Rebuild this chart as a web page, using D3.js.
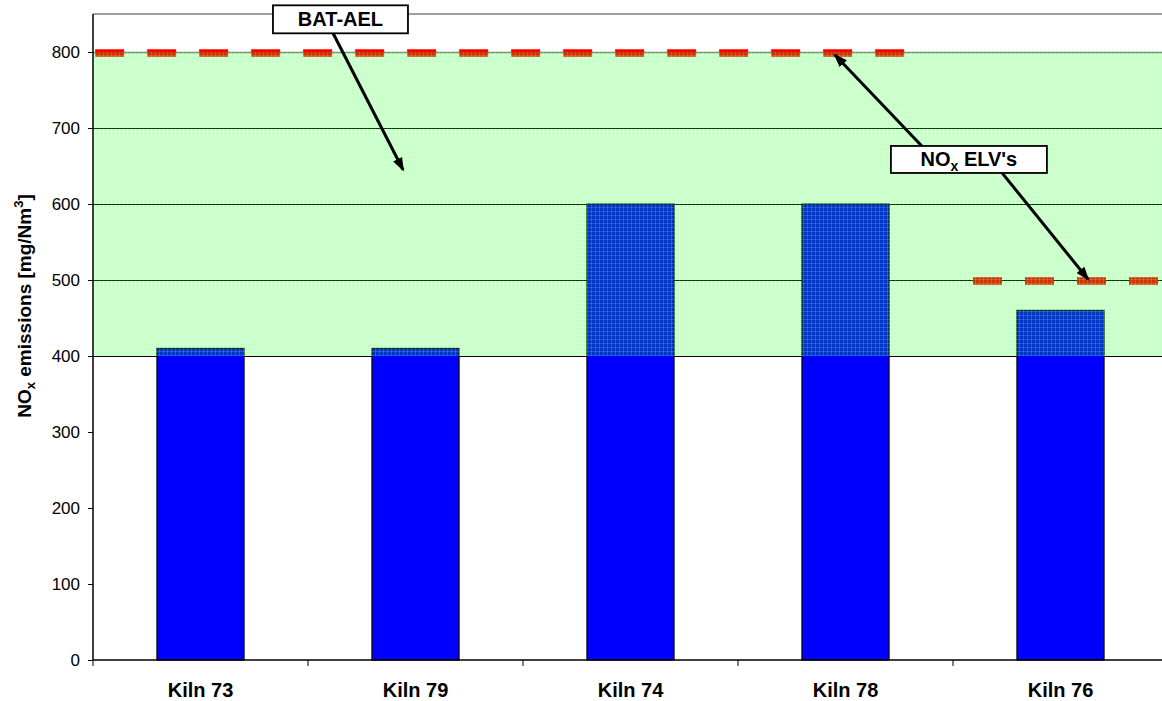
<!DOCTYPE html>
<html>
<head>
<meta charset="utf-8">
<script src="https://cdn.jsdelivr.net/npm/d3@7"></script>
<style>
  body { margin: 0; background: #fff; }
  svg { display: block; font-family: "Liberation Sans", Arial, sans-serif; }
</style>
</head>
<body>
<div id="chart"></div>
<script>
// data
var kilns = ["Kiln 73", "Kiln 79", "Kiln 74", "Kiln 78", "Kiln 76"];
var emissions = [410, 410, 600, 600, 460];
var yTicks = [0, 100, 200, 300, 400, 500, 600, 700, 800];
var gridValues = [400, 500, 600, 700, 800];
var batAel = [400, 800];          // BAT-AEL range (green band)
// ELV lines: [from category pos, to category pos, value]
var elvLines = [[0.01, 3.78, 800], [4.093, 5, 500]];

var width = 1162, height = 701;
var margin = { top: 14, left: 93, bottom: 41 };
var plotRight = 1168;

var svg = d3.select("#chart").append("svg")
    .attr("width", width)
    .attr("height", height);

var y = d3.scaleLinear().domain([0, 850]).range([height - margin.bottom, margin.top]);
var x = d3.scaleBand().domain(kilns).range([margin.left, plotRight]);
var xi = d3.scaleLinear().domain([0, kilns.length]).range([margin.left, plotRight]);

var defs = svg.append("defs");
// green hatch pattern of the BAT-AEL band
var pat = defs.append("pattern")
    .attr("id", "band")
    .attr("width", 4).attr("height", 4)
    .attr("patternUnits", "userSpaceOnUse");
pat.append("rect").attr("width", 4).attr("height", 4).attr("fill", "rgba(0,255,0,0.21)");
pat.append("rect").attr("x", 3).attr("width", 1).attr("height", 4).attr("fill", "rgba(255,255,255,0.15)");
pat.append("rect").attr("y", 3).attr("width", 4).attr("height", 1).attr("fill", "rgba(255,255,255,0.15)");

defs.append("marker")
    .attr("id", "arrow")
    .attr("markerUnits", "userSpaceOnUse")
    .attr("viewBox", "0 0 14 10")
    .attr("refX", 12).attr("refY", 5)
    .attr("markerWidth", 14).attr("markerHeight", 10)
    .attr("orient", "auto")
    .append("path")
    .attr("d", "M0,0 L14,5 L0,10 Z")
    .attr("fill", "#000");

// top border of plot area
svg.append("line")
    .attr("x1", margin.left).attr("x2", width)
    .attr("y1", margin.top).attr("y2", margin.top)
    .attr("stroke", "#808080").attr("stroke-width", 1.5);

// grid lines
svg.selectAll(".grid")
    .data(gridValues)
    .enter().append("line")
    .attr("class", "grid")
    .attr("x1", margin.left).attr("x2", width)
    .attr("y1", function(d) { return Math.round(y(d)) + 0.5; })
    .attr("y2", function(d) { return Math.round(y(d)) + 0.5; })
    .attr("stroke", function(d) { return d === 800 ? "#808080" : "#000"; })
    .attr("stroke-width", function(d) { return d === 800 ? 1.5 : 1; });

// bars
var barW = x.bandwidth() * 0.405;
svg.selectAll(".bar")
    .data(emissions)
    .enter().append("rect")
    .attr("class", "bar")
    .attr("x", function(d, i) { return x(kilns[i]) + (x.bandwidth() - barW) / 2; })
    .attr("y", function(d) { return y(d); })
    .attr("width", barW)
    .attr("height", function(d) { return y(0) - y(d); })
    .attr("fill", "#0000ff")
    .attr("stroke", "#000")
    .attr("stroke-width", 1.2);

// ELV dashed lines
svg.selectAll(".elv")
    .data(elvLines)
    .enter().append("line")
    .attr("class", "elv")
    .attr("x1", function(d) { return xi(d[0]); })
    .attr("x2", function(d) { return xi(d[1]); })
    .attr("y1", function(d) { return y(d[2]) + 1; })
    .attr("y2", function(d) { return y(d[2]) + 1; })
    .attr("stroke", "#ff0000")
    .attr("stroke-width", 7.5)
    .attr("stroke-dasharray", "29,23");

// BAT-AEL band overlay
svg.append("rect")
    .attr("x", margin.left)
    .attr("y", y(batAel[1]))
    .attr("width", width - margin.left)
    .attr("height", y(batAel[0]) - y(batAel[1]))
    .attr("fill", "url(#band)");

// y axis
var yAxis = svg.append("g")
    .attr("transform", "translate(" + margin.left + ",0)")
    .call(d3.axisLeft(y).tickValues(yTicks).tickSize(5).tickPadding(8));
yAxis.select(".domain").attr("d", "M0," + margin.top + "V" + y(0)).attr("stroke", "#000").attr("stroke-width", 1.5);
yAxis.selectAll("line").attr("stroke", "#000");
yAxis.selectAll("text").attr("font-size", 17).attr("fill", "#000").attr("font-family", "Liberation Sans, Arial");

// x axis
var xAxis = svg.append("g")
    .attr("transform", "translate(0," + y(0) + ")");
xAxis.append("line")
    .attr("x1", margin.left).attr("x2", width)
    .attr("stroke", "#000").attr("stroke-width", 1.5);
xAxis.selectAll(".xt")
    .data(d3.range(0, kilns.length + 1))
    .enter().append("line")
    .attr("x1", function(d) { return xi(d); })
    .attr("x2", function(d) { return xi(d); })
    .attr("y1", 0).attr("y2", 6)
    .attr("stroke", "#000");
xAxis.selectAll(".xl")
    .data(kilns)
    .enter().append("text")
    .attr("x", function(d) { return x(d) + x.bandwidth() / 2; })
    .attr("y", 37)
    .attr("text-anchor", "middle")
    .attr("font-size", 20)
    .attr("font-weight", "bold")
    .text(function(d) { return d; });

// y axis title
var yt = svg.append("text")
    .attr("transform", "translate(31,306) rotate(-90)")
    .attr("text-anchor", "middle")
    .attr("font-size", 19)
    .attr("font-weight", "bold");
yt.append("tspan").text("NO");
yt.append("tspan").attr("font-size", 13).attr("dy", 4).text("x");
yt.append("tspan").attr("dy", -4).text(" emissions [mg/Nm");
yt.append("tspan").attr("font-size", 13).attr("dy", -8).text("3");
yt.append("tspan").attr("dy", 8).text("]");

// annotations: arrows in [catPos, value]
var arrows = [
  [[1.116, 825], [1.442, 645]],
  [[3.856, 676], [3.451, 796]],
  [[4.228, 641], [4.628, 501]]
];
svg.selectAll(".arrow")
    .data(arrows)
    .enter().append("line")
    .attr("class", "arrow")
    .attr("x1", function(d) { return xi(d[0][0]); })
    .attr("y1", function(d) { return y(d[0][1]); })
    .attr("x2", function(d) { return xi(d[1][0]); })
    .attr("y2", function(d) { return y(d[1][1]); })
    .attr("stroke", "#000")
    .attr("stroke-width", 3)
    .attr("marker-end", "url(#arrow)");

// label boxes: [catPos, value, w, h]
var labels = [
  { pos: [1.151, 843], w: 135, h: 28, text: ["BAT-AEL"] },
  { pos: [4.074, 658.6], w: 156, h: 27, text: ["NO", "x", " ELV's"] }
];
var lg = svg.selectAll(".lab")
    .data(labels)
    .enter().append("g")
    .attr("transform", function(d) { return "translate(" + xi(d.pos[0]) + "," + y(d.pos[1]) + ")"; });
lg.append("rect")
    .attr("x", function(d) { return -d.w / 2; })
    .attr("y", function(d) { return -d.h / 2; })
    .attr("width", function(d) { return d.w; })
    .attr("height", function(d) { return d.h; })
    .attr("fill", "#fff")
    .attr("stroke", "#000")
    .attr("stroke-width", 1.8);
lg.each(function(d) {
  var t = d3.select(this).append("text")
      .attr("text-anchor", "middle")
      .attr("y", 7)
      .attr("font-size", 20)
      .attr("font-weight", "bold");
  if (d.text.length === 1) {
    t.text(d.text[0]);
  } else {
    t.append("tspan").text(d.text[0]);
    t.append("tspan").attr("font-size", 14).attr("dy", 5).text(d.text[1]);
    t.append("tspan").attr("dy", -5).text(d.text[2]);
  }
});
</script>
</body>
</html>
